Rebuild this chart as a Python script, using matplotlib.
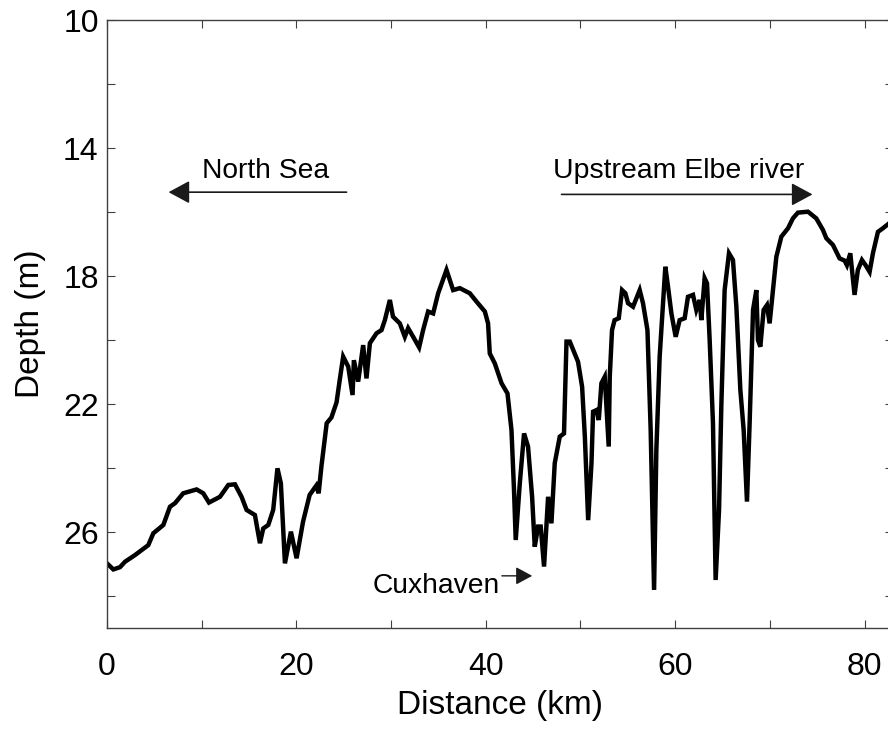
import matplotlib
matplotlib.use("Agg")
import matplotlib.pyplot as plt
from matplotlib.ticker import FixedLocator

plt.rcParams['font.family'] = ['Liberation Sans', 'DejaVu Sans']

# along-channel distance (km) and depth (m)
dist = [0.0, 0.67, 1.37, 1.9, 2.96, 4.36, 4.89, 5.95, 6.65, 7.18, 8.05, 9.46,
        10.16, 10.77, 11.93, 12.81, 13.51, 14.21, 14.74, 15.62, 16.15, 16.5,
        17.03, 17.55, 18.0, 18.36, 18.79, 19.42, 20.02, 20.7, 21.4, 22.1,
        22.35, 22.65, 23.2, 23.7, 24.24, 24.6, 24.94, 25.47, 25.93, 26.07,
        26.52, 27.05, 27.4, 27.76, 28.46, 28.99, 29.34, 29.87, 30.2, 30.92,
        31.45, 31.8, 32.33, 32.96, 33.38, 33.91, 34.44, 34.97, 35.85, 36.55,
        37.26, 38.31, 39.02, 39.9, 40.24, 40.42, 40.95, 41.66, 42.29, 42.71,
        42.98, 43.16, 43.59, 44.04, 44.46, 44.89, 45.17, 45.52, 45.8, 46.15,
        46.58, 46.93, 47.28, 47.81, 48.26, 48.52, 48.87, 49.74, 50.17, 50.46,
        50.81, 51.16, 51.33, 51.69, 51.93, 52.21, 52.56, 52.98, 53.09, 53.33,
        53.6, 54.04, 54.39, 54.74, 55.02, 55.55, 56.25, 56.6, 57.07, 57.41,
        57.77, 58.01, 58.36, 58.96, 59.24, 59.6, 60.05, 60.47, 61.0, 61.35,
        61.88, 62.23, 62.59, 62.76, 63.11, 63.36, 63.64, 63.99, 64.27, 64.63,
        64.87, 65.22, 65.68, 66.1, 66.46, 66.88, 67.23, 67.58, 67.86, 68.22,
        68.57, 68.74, 68.99, 69.34, 69.69, 69.97, 70.32, 70.68, 71.21, 71.91,
        72.43, 72.96, 74.02, 74.9, 75.6, 75.96, 76.66, 77.36, 77.89, 78.13,
        78.49, 78.94, 79.29, 79.72, 80.1, 80.53, 80.88, 81.41, 81.93, 82.6,
        83.0]
depth = [26.98, 27.17, 27.10, 26.93, 26.72, 26.41, 26.04, 25.78, 25.21, 25.10,
         24.79, 24.67, 24.79, 25.08, 24.90, 24.53, 24.51, 24.90, 25.31, 25.47,
         26.35, 25.89, 25.78, 25.31, 24.01, 24.48, 26.98, 25.99, 26.82, 25.68,
         24.84, 24.55, 24.79, 23.93, 22.6, 22.42, 21.95, 21.2, 20.52, 20.83,
         21.72, 20.63, 21.30, 20.16, 21.2, 20.10, 19.79, 19.69, 19.38, 18.75,
         19.27, 19.48, 19.9, 19.63, 19.90, 20.23, 19.69, 19.11, 19.17, 18.54,
         17.81, 18.44, 18.38, 18.54, 18.80, 19.11, 19.48, 20.42, 20.73, 21.35,
         21.67, 22.81, 24.69, 26.25, 24.48, 22.92, 23.33, 24.90, 26.46, 25.83,
         25.83, 27.08, 24.90, 25.73, 23.85, 23.02, 22.92, 20.05, 20.05, 20.68,
         21.46, 23.02, 25.63, 23.85, 22.24, 22.19, 22.5, 21.35, 21.15, 23.33,
         21.15, 19.69, 19.38, 19.32, 18.44, 18.54, 18.85, 18.96, 18.44, 18.85,
         19.69, 22.81, 27.81, 23.44, 20.52, 17.71, 18.33, 19.17, 19.90, 19.38,
         19.32, 18.65, 18.59, 19.06, 18.75, 19.38, 18.07, 18.23, 20.0, 22.6,
         27.5, 25.31, 22.08, 18.44, 17.29, 17.5, 18.96, 21.56, 22.81, 25.05,
         22.6, 19.06, 18.44, 20.0, 20.21, 19.06, 18.91, 19.48, 18.44, 17.40,
         16.77, 16.51, 16.20, 16.02, 15.99, 16.20, 16.56, 16.82, 17.03, 17.45,
         17.52, 17.66, 17.29, 18.59, 17.81, 17.5, 17.66, 17.87, 17.29, 16.62,
         16.51, 16.35, 16.3]

xticks = [0, 20, 40, 60, 80]
xminor = [10, 30, 50, 70]
yticks = [10, 14, 18, 22, 26]
yminor = [12, 16, 20, 24, 28]

fig = plt.figure(figsize=(8.88, 7.30), dpi=100)
ax = fig.add_axes([107 / 888, 1 - 628 / 730, 786 / 888, 608 / 730])

ax.plot(dist, depth, color='black', lw=3.2, solid_joinstyle='miter')

ax.set_xlim(0, 83)
ax.set_ylim(29, 10)

ax.set_xticks(xticks)
ax.xaxis.set_minor_locator(FixedLocator(xminor))
ax.set_yticks(yticks)
ax.yaxis.set_minor_locator(FixedLocator(yminor))

ax.tick_params(which='both', direction='in', top=True, right=True,
               length=5.8, width=0.8, color='0.25')
ax.tick_params(axis='x', which='major', labelsize=23, pad=17)
ax.tick_params(axis='y', which='major', labelsize=23, pad=6)
for s in ax.spines.values():
    s.set_color('0.25')
    s.set_linewidth(1.0)

ax.set_xlabel('Distance (km)', fontsize=24, labelpad=6)
ax.set_ylabel('Depth (m)', fontsize=24, labelpad=12)

# annotations
big_head = '-|>,head_length=0.5,head_width=0.27'
ax.text(10.0, 14.94, 'North Sea', fontsize=20.3, ha='left', va='baseline')
ax.annotate('', xy=(6.5, 15.38), xytext=(25.3, 15.38),
            arrowprops=dict(arrowstyle=big_head, mutation_scale=26, lw=1.2,
                            color='0.1', shrinkA=0, shrinkB=0))
ax.text(47.1, 14.94, 'Upstream Elbe river', fontsize=20.5, ha='left', va='baseline')
ax.annotate('', xy=(74.5, 15.45), xytext=(48.0, 15.45),
            arrowprops=dict(arrowstyle=big_head, mutation_scale=26, lw=1.2,
                            color='0.1', shrinkA=0, shrinkB=0))
ax.text(28.0, 27.9, 'Cuxhaven', fontsize=20.3, ha='left', va='baseline')
ax.annotate('', xy=(44.9, 27.37), xytext=(41.7, 27.37),
            arrowprops=dict(arrowstyle='-|>,head_length=0.5,head_width=0.27',
                            mutation_scale=20, lw=1.0,
                            color='0.1', shrinkA=0, shrinkB=0))

fig.savefig('out.png', dpi=100)
